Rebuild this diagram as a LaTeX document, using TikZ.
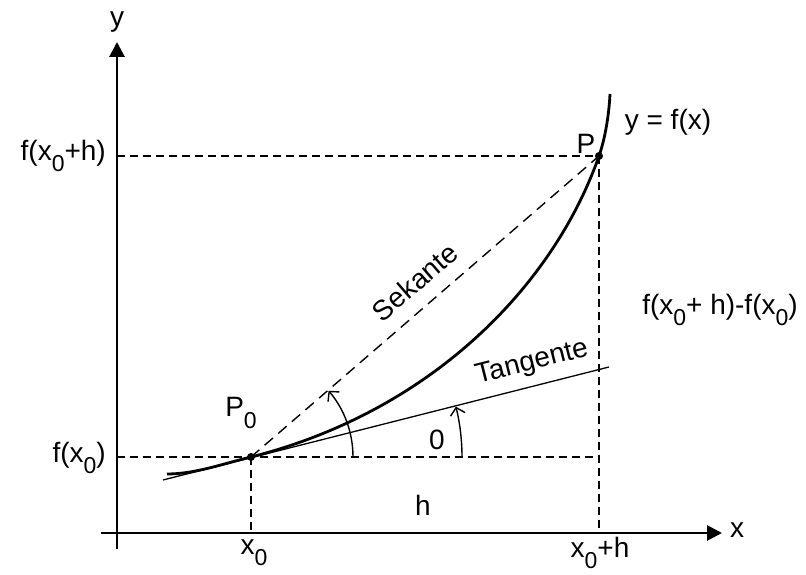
\documentclass[tikz,border=0pt]{standalone}
\usepackage{fontspec}
\setmainfont{Liberation Sans}
\usetikzlibrary{arrows.meta}
\newcommand\lowsub[1]{\raisebox{-0.4em}{\fontsize{23}{23}\selectfont #1}}
\begin{document}
\begin{tikzpicture}[x=1pt,y=1pt,
  lbl/.style={inner sep=0pt,font=\fontsize{28}{32}\selectfont},
  axis/.style={line width=2.8pt,-{Triangle[length=15pt,width=15pt]}},
  guide/.style={line width=1.4pt,dash pattern=on 8pt off 5pt},
  secant/.style={line width=1.4pt,dash pattern=on 11pt off 7pt},
  curve/.style={line width=2.8pt},
  thinline/.style={line width=1.3pt},
  anglearrow/.style={line width=1.4pt,-{Straight Barb[length=7pt,width=15pt,line width=1.4pt]}},
  dot/.style={circle,fill=black,inner sep=0pt,minimum size=8pt}]
\useasboundingbox (0,0) rectangle (806,575);
% coordinates
\coordinate (ybot) at (117,26);
\coordinate (ytop) at (117,533);
\coordinate (xleft) at (101,42);
\coordinate (xright) at (722,42);
\coordinate (P0) at (251,118);
\coordinate (P) at (599,419);
\coordinate (yP) at (117,419);
\coordinate (yP0) at (117,118);
\coordinate (xP0) at (251,42);
\coordinate (xP) at (599,42);
\coordinate (hcorner) at (599,118);
\coordinate (cstart) at (167,101);
\coordinate (ctop) at (610,481);
\coordinate (tstart) at (163,95);
\coordinate (tend) at (609,208);
% axes
\draw[axis] (ybot) -- (ytop);
\draw[axis] (xleft) -- (xright);
% guides
\draw[guide] (yP) -- (P);
\draw[guide] (yP0) -- (hcorner);
\draw[guide] (P0) -- (xP0);
\draw[guide] (P) -- (xP);
\draw[secant] (P0) -- (P);
% tangent
\draw[thinline] (tstart) -- (tend);
% curve
\draw[curve] (cstart) .. controls (195,101) and (222,111) .. (P0)
  .. controls (431,163.5) and (553.5,289) .. (P)
  .. controls (605,436) and (609,460) .. (ctop);
% angle arcs
\draw[anglearrow] (P0) ++(102,0) arc[start angle=0,end angle=40.5,radius=102];
\draw[anglearrow] (P0) ++(211,0) arc[start angle=0,end angle=13.8,radius=211];
% dots
\node[dot] (P0dot) at (P0) {};
\node[dot] (Pdot) at (P) {};
% labels
\node[lbl] (ylab) at (117,553) {y};
\node[lbl] (xlab) at (737,45) {x};
\node[lbl,anchor=east] (fxh) at (106,419) {f(x\lowsub{0}+h)};
\node[lbl,anchor=east] (fx0) at (106,117) {f(x\lowsub{0})};
\node[lbl] (x0lab) at (254,22) {x\lowsub{0}};
\node[lbl] (xhlab) at (600,22) {x\lowsub{0}+h};
\node[lbl] (hlab) at (423,70) {h};
\node[lbl] (P0lab) at (241,162) {P\lowsub{0}};
\node[lbl] (Plab) at (586,431) {P};
\node[lbl] (fxlab) at (668,453) {y = f(x)};
\node[lbl] (difflab) at (720,265) {f(x\lowsub{0}+ h)-f(x\lowsub{0})};
\node[lbl,rotate=40.9] (sek) at (415,293) {Sekante};
\node[lbl,rotate=14.2] (tan) at (532,212) {Tangente};
\node[lbl] (zero) at (437,135) {0};
\end{tikzpicture}
\end{document}
